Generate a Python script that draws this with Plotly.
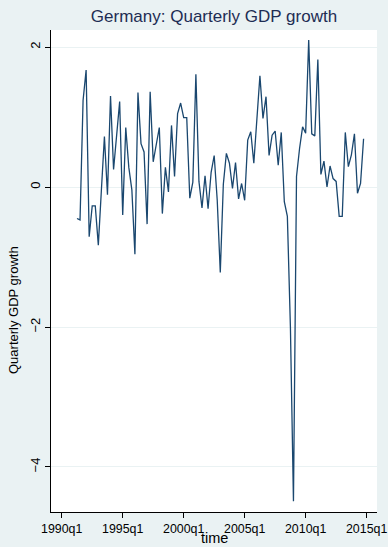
import plotly.graph_objects as go

# Quarterly GDP growth, Germany, 1991q2 - 2014q4 (percent, q/q)
start_year = 1991
start_quarter = 2
growth = [
    -0.45, -0.47, 1.24, 1.67,                    # 1991q2-1992q1
    -0.71, -0.27, -0.27, -0.83,                  # 1992q2-1993q1
    -0.05, 0.72, -0.11, 1.30,                    # 1993q2-1994q1
    0.25, 0.74, 1.22, -0.40,                     # 1994q2-1995q1
    0.85, 0.28, -0.04, -0.96,                    # 1995q2-1996q1
    1.35, 0.62, 0.50, -0.53,                     # 1996q2-1997q1
    1.36, 0.36, 0.60, 0.85,                      # 1997q2-1998q1
    -0.38, 0.28, -0.07, 0.88,                    # 1998q2-1999q1
    0.15, 1.05, 1.20, 0.99,                      # 1999q2-2000q1
    0.99, -0.16, 0.07, 1.61,                     # 2000q2-2001q1
    0.08, -0.30, 0.16, -0.31,                    # 2001q2-2002q1
    0.21, 0.45, -0.19, -1.22,                    # 2002q2-2003q1
    0.04, 0.48, 0.34, -0.02,                     # 2003q2-2004q1
    0.35, -0.17, 0.05, -0.19,                    # 2004q2-2005q1
    0.67, 0.79, 0.34, 0.95,                      # 2005q2-2006q1
    1.59, 0.98, 1.29, 0.45,                      # 2006q2-2007q1
    0.74, 0.80, 0.31, 0.78,                      # 2007q2-2008q1
    -0.21, -0.42, -2.00, -4.49,                  # 2008q2-2009q1
    0.15, 0.55, 0.86, 0.77,                      # 2009q2-2010q1
    2.10, 0.76, 0.73, 1.82,                      # 2010q2-2011q1
    0.18, 0.37, 0.00, 0.30,                      # 2011q2-2012q1
    0.12, 0.08, -0.42, -0.42,                    # 2012q2-2013q1
    0.78, 0.29, 0.46, 0.76,                      # 2013q2-2014q1
    -0.09, 0.05, 0.69,                           # 2014q2-2014q4
]

tick_years = [1990, 1995, 2000, 2005, 2010, 2015]
tick_labels = ["1990q1", "1995q1", "2000q1", "2005q1", "2010q1", "2015q1"]
y_ticks = [-4, -2, 0, 2]

# time axis as fractional years
t = []
for i in range(len(growth)):
    q = start_quarter - 1 + i
    t.append(start_year + q / 4)

bg = "#EAF2F3"
navy = "#1A476F"
font_family = "Liberation Sans, Arial, sans-serif"

fig = go.Figure()
fig.add_trace(go.Scatter(
    x=t, y=growth, mode="lines",
    line=dict(color=navy, width=1.3),
    hoverinfo="skip", showlegend=False,
))

fig.update_layout(
    width=388, height=547,
    margin=dict(l=51, r=11, t=30, b=35),
    paper_bgcolor=bg,
    plot_bgcolor="white",
    font=dict(family=font_family, color="#000000", size=12),
    title=dict(
        text="Germany: Quarterly GDP growth",
        x=(51 + 377) / 2 / 388, xanchor="center",
        y=1 - 16 / 547, yanchor="middle",
        font=dict(size=17, color="#1E2D53", family=font_family),
    ),
    xaxis=dict(
        range=[1989.12, 2015.85],
        tickvals=tick_years, ticktext=tick_labels,
        ticks="outside", ticklen=5, tickcolor="#000000", tickwidth=1,
        showline=True, linecolor="#000000", linewidth=1,
        showgrid=False, zeroline=False,
        tickfont=dict(size=12.4),
        automargin=False,
    ),
    yaxis=dict(
        range=[-4.643, 2.243],
        tickvals=y_ticks,
        ticks="outside", ticklen=5, tickcolor="#000000", tickwidth=1,
        tickangle=-90,
        showline=True, linecolor="#000000", linewidth=1,
        showgrid=True, gridcolor=bg, gridwidth=1,
        zeroline=False,
        tickfont=dict(size=13),
        automargin=False,
    ),
    annotations=[
        dict(
            text="Quarterly GDP growth",
            xref="paper", yref="paper",
            x=-37 / 326, y=(512 - 310) / 482,
            xanchor="center", yanchor="middle",
            textangle=-90, showarrow=False,
            font=dict(size=13, color="#000000", family=font_family),
        ),
        dict(
            text="time",
            xref="paper", yref="paper",
            x=0.5, y=-(538 - 512) / 482,
            xanchor="center", yanchor="middle",
            showarrow=False, borderpad=0,
            font=dict(size=14.5, color="#000000", family=font_family),
        ),
    ],
)

fig.write_html("out.html")
